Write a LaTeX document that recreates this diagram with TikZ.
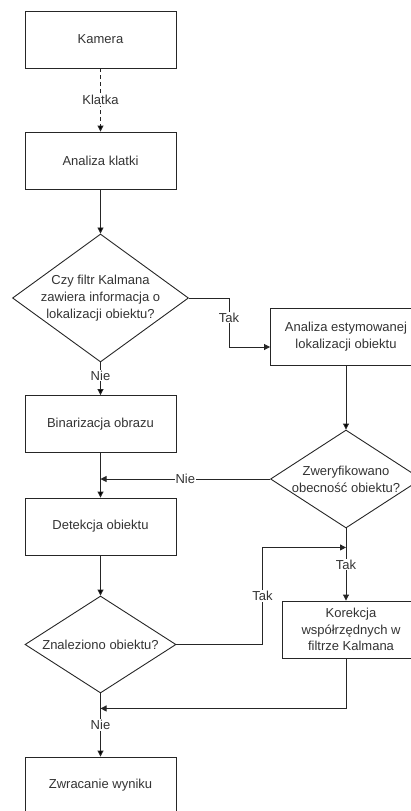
\documentclass[tikz,border=0pt]{standalone}
\usepackage{fontspec}
\setmainfont{Liberation Sans}
\usetikzlibrary{shapes.geometric,arrows.meta}

\begin{document}
\begin{tikzpicture}[x=1pt,y=-1pt,>={Triangle[length=6pt,width=6pt]},font=\fontsize{13}{16.7}\selectfont,line width=0.9pt]
        \tikzstyle{process}=[rectangle,draw=black!85,text=black!80,minimum width=151pt,minimum height=57pt,inner sep=0pt,align=center]
        \tikzstyle{decision}=[diamond,draw=black!85,inner sep=0pt]
        \tikzstyle{question}=[align=center,text=black!80]
        \tikzstyle{edge}=[draw=black!85,->]
        \tikzstyle{answer}=[fill=white,text=black!80,inner sep=1pt]
        \useasboundingbox (0,0) rectangle (410,811);
       \begin{scope}
         \node [process] (kamera) at (100.5,39.5) {Kamera};
         \node [process] (klatka) at (100.5,160.5) {Analiza klatki};
         \node [decision,minimum width=176pt,minimum height=128pt,
                label={[question]center:Czy filtr Kalmana\\zawiera informacja o\\lokalizacji obiektu?}] (kalman) at (100.5,298) {};
         \node [process] (estym) at (346,336.5) {Analiza estymowanej\\lokalizacji obiektu};
         \node [process] (binar) at (100.5,424) {Binarizacja obrazu};
         \node [decision,minimum width=151pt,minimum height=98pt,
                label={[question]center:Zweryfikowano\\obecność obiektu?}] (weryf) at (346,479) {};
         \node [process] (detekcja) at (100.5,526.5) {Detekcja obiektu};
         \node [process,minimum width=138pt] (korekcja) at (351,629.5) {Korekcja\\współrzędnych w\\filtrze Kalmana};
         \node [decision,minimum width=151pt,minimum height=97pt,
                label={[question]center:Znaleziono obiektu?}] (znal) at (100.5,644.5) {};
         \node [process] (wynik) at (100.5,785.5) {Zwracanie wyniku};
         \path[edge] (kamera) edge [dash pattern=on 4pt off 3pt] node[answer] {Klatka} (klatka);
         \path[edge] (klatka) edge (kalman);
         \path[edge] (kalman) edge node[answer,pos=0.4] {Nie} (binar);
         \draw[edge] (kalman.east) -- ++(40,0) |- node[answer,pos=0.2] {Tak} ([yshift=-10.5pt]estym.west);
         \path[edge] (estym) edge (weryf);
         \path[edge] (binar) edge (detekcja);
         \draw[edge] (weryf.west) -- node[answer] {Nie} (weryf.west -| binar.south);
         \path[edge] (detekcja) edge (znal);
         \draw[edge] (weryf.south) -- node[answer] {Tak} (weryf.south |- korekcja.north);
         \draw[edge] (znal.east) -- ++(86,0) |- node[answer,pos=0.25] {Tak} ([yshift=-19pt]weryf.south);
         \draw[edge] (weryf.south |- korekcja.south) |- ([yshift=-15pt]znal.south);
         \path[edge] (znal) edge node[answer] {Nie} (wynik);
        \end{scope}
      \end{tikzpicture}
\end{document}
